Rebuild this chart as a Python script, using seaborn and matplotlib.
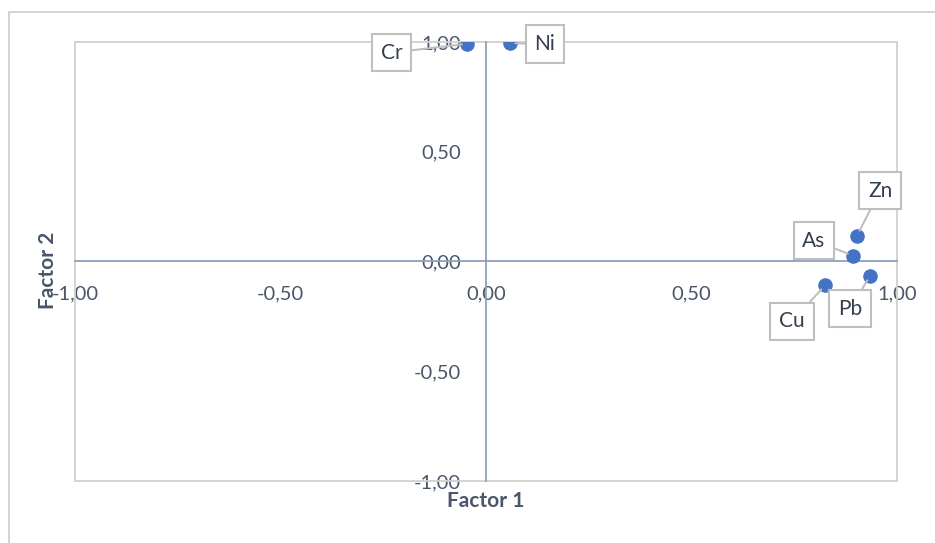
import pandas as pd
import matplotlib.pyplot as plt
import matplotlib.patches as mpatches
import seaborn as sns

# Factor loadings
elements = ["Cr", "Ni", "Zn", "As", "Pb", "Cu"]
factor1 = [-0.045, 0.058, 0.903, 0.893, 0.935, 0.825]
factor2 = [0.992, 0.995, 0.118, 0.027, -0.064, -0.109]
ticks = [-1.0, -0.5, 0.0, 0.5, 1.0]
tick_labels = ["-1,00", "-0,50", "0,00", "0,50", "1,00"]

df = pd.DataFrame({"Element": elements, "Factor 1": factor1, "Factor 2": factor2})

sns.set_style("white")
plt.rcParams["font.family"] = ["Lato", "DejaVu Sans"]

text_color = "#4A566B"
axis_color = "#8FA0BC"
border_color = "#D0D0D0"

fig = plt.figure(figsize=(9.35, 5.43), dpi=100)
ax = fig.add_axes([0.0802, 0.1142, 0.8791, 0.8085])

sns.scatterplot(data=df, x="Factor 1", y="Factor 2", ax=ax,
                s=110, color="#4472C4", edgecolor="#4472C4", linewidth=0, zorder=5)

ax.set_xlim(-1, 1)
ax.set_ylim(-1, 1)

# axes crossing at zero, Excel style
ax.spines["left"].set_position("zero")
ax.spines["bottom"].set_position("zero")
ax.spines["right"].set_visible(False)
ax.spines["top"].set_visible(False)
for s in ["left", "bottom"]:
    ax.spines[s].set_color(axis_color)
    ax.spines[s].set_linewidth(1.3)

ax.set_xticks(ticks)
ax.set_xticklabels(tick_labels)
ax.set_yticks(ticks)
ax.set_yticklabels(tick_labels)
ax.tick_params(axis="x", length=0, pad=17, labelsize=14.5, colors=text_color)
ax.tick_params(axis="y", length=0, pad=18, labelsize=14.5, colors=text_color)
ax.set_xlabel("")
ax.set_ylabel("")
for lbl in ax.get_xticklabels() + ax.get_yticklabels():
    lbl.set_zorder(7)

# plot area border
ax.add_patch(mpatches.Rectangle((0, 0), 1, 1, transform=ax.transAxes, fill=False,
                                edgecolor=border_color, linewidth=1.3, zorder=1, clip_on=False))

# axis titles
fig.text(486 / 935, 1 - 501 / 543, "Factor 1", ha="center", va="center",
         fontsize=15, fontweight="bold", color=text_color)
fig.text(48 / 935, 1 - 270 / 543, "Factor 2", ha="center", va="center", rotation=90,
         fontsize=15, fontweight="bold", color=text_color)

# data callouts
offsets = {"Cr": (-76, -9), "Ni": (35, -1), "Zn": (23, 45),
           "As": (-39, 15), "Pb": (-20, -33), "Cu": (-33, -36)}
for name, x, y in zip(elements, factor1, factor2):
    ax.annotate(name, (x, y), xytext=offsets[name], textcoords="offset pixels",
                ha="center", va="center", fontsize=15, color="#333F50", zorder=6,
                bbox=dict(boxstyle="square,pad=0.42", fc="white", ec="#BFBFBF", lw=1.5),
                arrowprops=dict(arrowstyle="-", color="#BFBFBF", lw=1.5, shrinkA=0, shrinkB=4))

# outer chart border
fig.add_artist(mpatches.Rectangle((9 / 935, -0.1), 2, 1 - 12 / 543 + 0.1,
                                  transform=fig.transFigure, fill=False,
                                  edgecolor=border_color, linewidth=1.3))

fig.savefig("out.png", dpi=100)
